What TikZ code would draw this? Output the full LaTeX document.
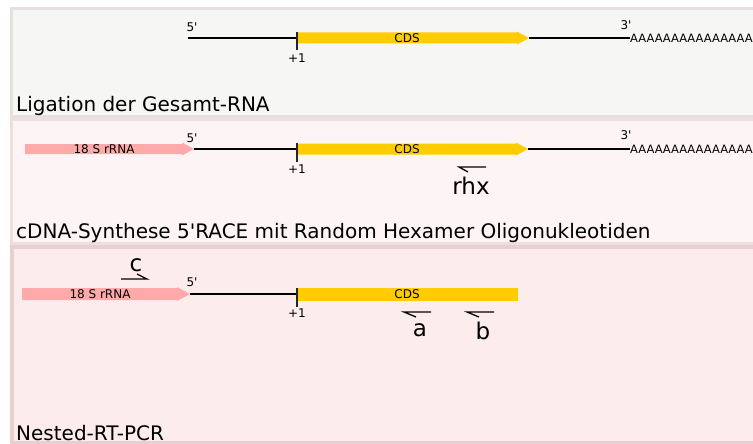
\documentclass[tikz,border=0pt]{standalone}
\usepackage{fontspec}
\setmainfont{DejaVu Sans}
\definecolor{cdsyellow}{HTML}{FFCC00}
\definecolor{rrnapink}{HTML}{FFAAAA}
\definecolor{bgone}{HTML}{F6F6F5}
\definecolor{bdone}{HTML}{E6E0DF}
\definecolor{bgtwo}{HTML}{FDF5F5}
\definecolor{bdtwo}{HTML}{F0DEDE}
\definecolor{bgthree}{HTML}{FDECEC}
\definecolor{bdthree}{HTML}{E8D0D0}
\tikzset{
  strand/.style={draw=black, line width=1.2pt},
  tickmark/.style={draw=black!85, line width=2pt},
  primer/.style={draw=black, line width=1.3pt},
  small/.style={font=\fontsize{12}{14}\selectfont, inner sep=0pt},
  polya/.style={font=\fontsize{11.5}{13}\selectfont, inner sep=0pt, anchor=west},
  big/.style={font=\fontsize{23}{26}\selectfont, inner sep=0pt, anchor=base},
  caption/.style={font=\fontsize{20}{23}\selectfont, inner sep=0pt, anchor=base west},
}
\begin{document}
\begin{tikzpicture}[x=1pt, y=-1pt]
\useasboundingbox (0,0) rectangle (753,444);
% panels
\fill[bdone] (10,7) rectangle (760,118);
\fill[bgone] (13,10) rectangle (760,115);
\fill[bdtwo] (10,118) rectangle (760,245);
\fill[bgtwo] (13,121) rectangle (760,242);
\fill[bdthree] (10,245) rectangle (760,444);
\fill[bgthree] (14,249) rectangle (760,441);

% ---------- panel 1 ----------
\coordinate (p1s) at (188,38);
\coordinate (p1p) at (297,38);
\coordinate (p1e) at (529,38);
\fill[cdsyellow] (297,32.5) -- (517,32.5) -- (517,31.5) -- (529,38) -- (517,44.5) -- (517,43.5) -- (297,43.5) -- cycle;
\node[small] (cds1) at (407,38) {CDS};
\node[polya] (pa1) at (630,38) {AAAAAAAAAAAAAAAAAA};
\draw[strand] (p1s) -- (p1p);
\draw[strand] (p1e) -- (pa1.west);
\draw[tickmark] (297,32) -- (297,50);
\node[small] (f1) at (192,27) {5\textquotesingle};
\node[small] (t1) at (626,25) {3\textquotesingle};
\node[small] (o1) at (297,58) {+1};
\node[caption] (cap1) at (16,111) {Ligation der Gesamt-RNA};

% ---------- panel 2 ----------
\fill[rrnapink] (25,144) -- (182,144) -- (182,142.5) -- (194,149) -- (182,155.5) -- (182,154) -- (25,154) -- cycle;
\node[small] (rr2) at (104,149) {18 S rRNA};
\coordinate (p2s) at (194,149);
\coordinate (p2p) at (297,149);
\coordinate (p2e) at (528,149);
\fill[cdsyellow] (297,143.5) -- (516,143.5) -- (516,142.5) -- (528,149) -- (516,155.5) -- (516,154.5) -- (297,154.5) -- cycle;
\node[small] (cds2) at (407,149) {CDS};
\node[polya] (pa2) at (630,149) {AAAAAAAAAAAAAAAAAA};
\draw[strand] (p2s) -- (p2p);
\draw[strand] (p2e) -- (pa2.west);
\draw[tickmark] (297,143) -- (297,162);
\node[small] (f2) at (192,138) {5\textquotesingle};
\node[small] (t2) at (626,135) {3\textquotesingle};
\node[small] (o2) at (297,169) {+1};
\coordinate (rhxa) at (459,167);
\coordinate (rhxb) at (486,167);
\draw[primer] (rhxb) -- (rhxa) -- (468,172);
\node[big] (rhx) at (471,194) {rhx};
\node[caption] (cap2) at (16,238) {cDNA-Synthese 5\textquotesingle RACE mit Random Hexamer Oligonukleotiden};

% ---------- panel 3 ----------
\fill[rrnapink] (22,288) -- (177,288) -- (177,287) -- (190,294) -- (177,301) -- (177,300) -- (22,300) -- cycle;
\node[small] (rr3) at (100,294) {18 S rRNA};
\coordinate (p3s) at (190,294);
\coordinate (p3p) at (297,294);
\fill[cdsyellow] (297,288) rectangle (518,300.5);
\node[small] (cds3) at (407,294) {CDS};
\draw[strand] (p3s) -- (p3p);
\draw[tickmark] (297,288) -- (297,307);
\node[small] (f3) at (192,282) {5\textquotesingle};
\node[small] (o3) at (297,313) {+1};
% primer c
\coordinate (ca) at (121,279);
\coordinate (cb) at (147,279);
\draw[primer] (ca) -- (cb) -- (137,274);
\node[big] (c) at (136,271) {c};
% primer a
\coordinate (aa) at (404,312);
\coordinate (ab) at (431,312);
\draw[primer] (ab) -- (aa) -- (416,317);
\node[big] (a) at (420,336) {a};
% primer b
\coordinate (ba) at (467,312);
\coordinate (bb) at (494,312);
\draw[primer] (bb) -- (ba) -- (479,317);
\node[big] (b) at (483,339) {b};
\node[caption] (cap3) at (16,440) {Nested-RT-PCR};
\end{tikzpicture}
\end{document}
